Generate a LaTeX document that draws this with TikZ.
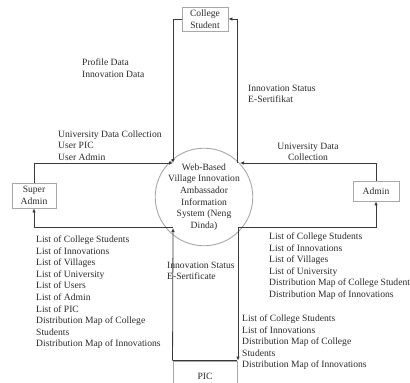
\documentclass[tikz,border=0pt]{standalone}
\usepackage{fontspec}
\setmainfont{Liberation Serif}
\usetikzlibrary{arrows.meta,calc}
\definecolor{linec}{HTML}{3A3A3A}
\definecolor{boxc}{HTML}{A8A8A8}
\definecolor{txtc}{HTML}{2A2A2A}
\begin{document}
\begin{tikzpicture}[x=1pt,y=-1pt,
  every node/.style={text=txtc,font=\fontsize{9.6}{11.6}\selectfont},
  box/.style={draw=boxc,line width=0.9pt,align=center,inner sep=1pt},
  sys/.style={draw=boxc,line width=0.9pt,circle,minimum size=82pt,align=center,inner sep=0pt},
  lbl/.style={anchor=north west,align=left,inner sep=0pt},
  lblc/.style={anchor=north,align=center,inner sep=0pt},
  arr/.style={draw=linec,line width=0.8pt,-{Latex[length=4pt,width=3.6pt]}},
  ln/.style={draw=linec,line width=0.8pt}]
\useasboundingbox (0,0) rectangle (410,383);
\clip (0,0) rectangle (410,383);
% nodes
\node[box,minimum width=46pt,minimum height=24pt] (cs) at (205,19) {College\\Student};
\node[box,minimum width=44pt,minimum height=25pt] (sa) at (34,195.5) {Super\\Admin};
\node[box,minimum width=46pt,minimum height=20pt] (ad) at (376,191) {Admin};
\node[sys] (sys) at (204,197) {Web-Based\\Village Innovation\\Ambassador\\Information\\System (Neng\\Dinda)};
\node[draw=boxc,line width=0.9pt,minimum width=64pt,minimum height=36pt,inner sep=0pt] (pic) at (205,379) {};
\node at (205,376) (pict) {PIC};
\draw[ln] (pic.north west) -- (pic.north east);
% coordinates near the process
\coordinate (inTL) at (173,163);
\coordinate (outTR) at (237,163);
\coordinate (inTR) at (240,163);
\coordinate (outBL) at (173,227);
\coordinate (inBL) at (173,228);
\coordinate (outBR) at (238,227);
% connectors
\draw[arr] (cs.west) -| (inTL);
\draw[arr] (sa.north) |- (inTL);
\draw[arr] (outTR) |- (cs.east);
\draw[arr] (ad.north) |- (inTR);
\draw[arr] (outBL) -| (sa.south);
\draw[arr] (pic.north west) -- (inBL);
\draw[arr] (outBR) -| (ad.south);
\draw[arr] (outBR) -- (outBR |- pic.north);
% labels
\node[lbl] (l1) at (82,58.5) {Profile Data\\Innovation Data};
\node[lbl] (l2) at (248,84.5) {Innovation Status\\E-Sertifikat};
\node[lbl] (l3) at (58,130.5) {University Data Collection\\User PIC\\User Admin};
\node[lblc] (l4) at (308,142.5) {University Data\\Collection};
\node[lbl] (l5) at (36,235.5) {List of College Students\\List of Innovations\\List of Villages\\List of University\\List of Users\\List of Admin\\List of PIC\\Distribution Map of College\\Students\\Distribution Map of Innovations};
\node[lbl] (l6) at (167,261.5) {Innovation Status\\E-Sertificate};
\node[lbl] (l7) at (269,232.5) {List of College Students\\List of Innovations\\List of Villages\\List of University\\Distribution Map of College Student\\Distribution Map of Innovations};
\node[lbl] (l8) at (242,314.5) {List of College Students\\List of Innovations\\Distribution Map of College\\Students\\Distribution Map of Innovations};
\end{tikzpicture}
\end{document}
